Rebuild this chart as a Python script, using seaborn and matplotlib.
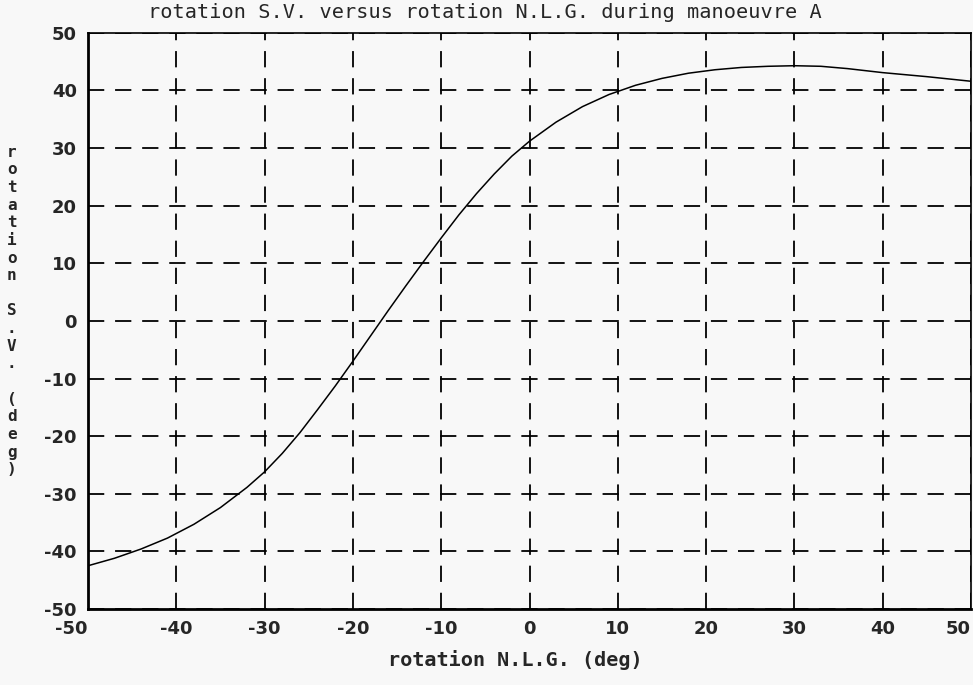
import matplotlib
matplotlib.use('Agg')
import matplotlib.pyplot as plt
import pandas as pd
import seaborn as sns

# Values
nlg_rotation = [-50, -47, -44, -41, -38, -35, -32, -30, -28, -26, -24, -22,
                -20, -18, -16, -14, -12, -10, -8, -6, -4, -2, 0, 3, 6, 9,
                12, 15, 18, 21, 24, 27, 30, 33, 36, 40, 45, 50]
sv_rotation = [-42.5, -41.2, -39.6, -37.7, -35.3, -32.4, -28.9, -26.2, -23.0,
               -19.4, -15.4, -11.3, -7.0, -2.6, 1.8, 6.1, 10.3, 14.4, 18.4,
               22.1, 25.5, 28.6, 31.2, 34.5, 37.2, 39.3, 40.9, 42.1, 43.0,
               43.6, 44.0, 44.2, 44.3, 44.2, 43.8, 43.1, 42.4, 41.6]
ticks = [-50, -40, -30, -20, -10, 0, 10, 20, 30, 40, 50]

title = 'rotation S.V. versus rotation N.L.G. during manoeuvre A'
xlabel = 'rotation N.L.G. (deg)'
ylabel = 'rotation S.V. (deg)'

df = pd.DataFrame({'nlg': nlg_rotation, 'sv': sv_rotation})

sns.set_style('white')
plt.rcParams['font.family'] = ['DejaVu Sans']

bg = '#f8f8f8'
fig = plt.figure(figsize=(9.73, 6.85), dpi=100, facecolor=bg)
ax = fig.add_axes([0.0904, 0.111, 0.9076, 0.841])
ax.set_facecolor(bg)

sns.lineplot(data=df, x='nlg', y='sv', ax=ax, color='black', linewidth=1.1)

ax.set_xlim(-50, 50)
ax.set_ylim(-50, 50)
ax.set_xticks(ticks)
ax.set_yticks(ticks)
ax.set_xticklabels([str(t) for t in ticks], fontsize=13, fontweight='bold')
ax.set_yticklabels([str(t) for t in ticks], fontsize=13, fontweight='bold')
ax.tick_params(axis='both', length=0, pad=8)
# first and last x labels sit against the frame, as in the scan
xl = ax.get_xticklabels()
xl[0].set_ha('right')
xl[-1].set_ha('right')
ax.grid(True, color='black', linestyle=(0, (9, 6)), linewidth=1.3)
ax.set_xlabel('')
ax.set_ylabel('')

for side in ['left', 'bottom']:
    ax.spines[side].set_linewidth(2.0)
    ax.spines[side].set_color('black')
for side in ['top', 'right']:
    ax.spines[side].set_linewidth(1.2)
    ax.spines[side].set_color('black')

fig.text(0.498, 0.982, title, ha='center', va='center',
         family='DejaVu Sans Mono', fontsize=14.6)
fig.text(0.53, 0.036, xlabel, ha='center', va='center',
         family='DejaVu Sans Mono', fontsize=14.5, fontweight='bold')

# y label written as a vertical column of characters
stacked = '\n'.join(ch for ch in ylabel)
fig.text(0.012, 0.546, stacked, ha='center', va='center',
         family='DejaVu Sans Mono', fontsize=11.5, fontweight='bold', linespacing=1.22)

fig.savefig('out.png', dpi=100, facecolor=bg)
